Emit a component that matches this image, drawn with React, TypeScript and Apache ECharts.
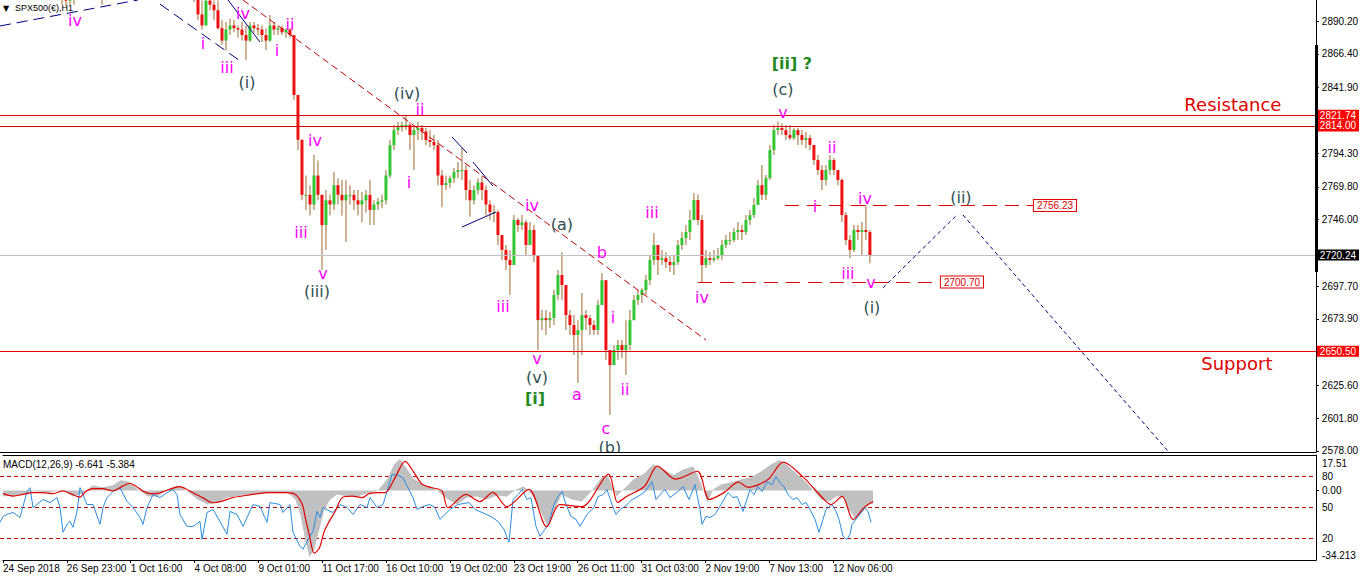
import React, { useEffect, useRef } from 'react';
import * as echarts from 'echarts';

// ---------- price data (4 hourly bars aggregated per candle) ----------
const HOURS_PER_CANDLE = 4;
const firstOpen = 2916;
const closes = [
  2918, 2920, 2922, 2925, 2921, 2924, 2927, 2923, 2920, 2918,
  2916, 2914, 2912, 2910, 2908, 2906, 2905, 2907, 2909, 2912,
  2915, 2918, 2916, 2912, 2910, 2909, 2913, 2917, 2920, 2924,
  2928, 2931, 2929, 2932, 2935, 2933, 2936, 2938, 2936, 2933,
  2930, 2927, 2924, 2921, 2918, 2915, 2913, 2910, 2908, 2895,
  2887, 2905, 2902, 2898, 2885, 2876, 2884, 2887, 2885, 2884,
  2880, 2876, 2887, 2885, 2884, 2880, 2876, 2887, 2884, 2885,
  2882, 2884, 2880, 2836.5, 2804, 2764, 2764, 2757, 2778, 2764,
  2742, 2760, 2757, 2771, 2764, 2760, 2764, 2764, 2760, 2757,
  2760, 2764, 2753, 2757, 2759, 2760, 2778, 2800, 2811, 2813,
  2814.7, 2814.7, 2807.4, 2811, 2812.5, 2810, 2803.8, 2802.4, 2800, 2778,
  2771, 2772.6, 2776, 2780.6, 2782, 2782, 2767.5, 2760, 2767.5, 2773,
  2767.5, 2757, 2751.5, 2751.5, 2734.8, 2724, 2716.7, 2713, 2745.7, 2742,
  2744, 2727.6, 2738.5, 2720.3, 2673, 2674.5, 2673, 2674.5, 2691.3, 2705.8,
  2698.5, 2676.7, 2669.5, 2662.2, 2665.8, 2676.7, 2674.5, 2669.5, 2665.8, 2684,
  2702, 2651.3, 2640.4, 2651.3, 2655, 2651.3, 2655, 2673, 2687.6, 2691.3,
  2694.9, 2702, 2716.7, 2727.6, 2716.7, 2718, 2715.2, 2713, 2715.2, 2727.6,
  2732.6, 2737, 2745.7, 2760.2, 2745.7, 2713, 2718, 2716.7, 2718, 2720.3,
  2727.6, 2731.2, 2731.2, 2737, 2738.5, 2737, 2745.7, 2749.3, 2756.6, 2771,
  2764, 2776.2, 2796.5, 2811, 2812.5, 2811, 2807.4, 2805.2, 2811, 2807.4,
  2803.8, 2805.2, 2800.2, 2789.3, 2782, 2774.8, 2782, 2789.3, 2782, 2774.8,
  2749.3, 2731.2, 2724, 2738.5, 2737, 2738.5, 2737, 2720.24,
];
const highs = [
  2924, 2925, 2927, 2929, 2927, 2928, 2931, 2929, 2926, 2923,
  2921, 2919, 2917, 2915, 2913, 2911, 2910, 2911, 2912, 2916,
  2919, 2922, 2921, 2918, 2914, 2913, 2917, 2921, 2925, 2929,
  2932, 2935, 2934, 2937, 2939, 2938, 2940, 2942, 2941, 2938,
  2935, 2932, 2929, 2926, 2923, 2920, 2918, 2915, 2912, 2910,
  2905, 2909, 2909, 2905, 2905, 2891, 2889.5, 2892, 2891, 2887,
  2889.5, 2887, 2889.5, 2889.5, 2888, 2887, 2885, 2894.6, 2889.5, 2887,
  2887, 2885, 2885, 2880, 2836.5, 2804, 2778, 2771, 2793, 2789,
  2764, 2767.5, 2764, 2780.6, 2776, 2774.8, 2774.8, 2771, 2767.5, 2767.5,
  2766, 2767.5, 2774.8, 2760, 2761.7, 2764, 2782, 2804, 2814.7, 2817,
  2817, 2822, 2817, 2814.7, 2817, 2814.7, 2812.5, 2811, 2807.4, 2803.8,
  2782, 2778, 2778, 2783.5, 2787.8, 2798, 2785.6, 2774.8, 2771, 2776,
  2777.6, 2771, 2760, 2756.6, 2753, 2734.8, 2727.6, 2724, 2749.3, 2747.2,
  2749.3, 2745.7, 2744.3, 2742, 2720.3, 2680.4, 2680.4, 2679, 2694.9, 2709.4,
  2722.5, 2684, 2680.4, 2676.7, 2673, 2692.7, 2680.4, 2676.7, 2673, 2687.6,
  2707.2, 2700.7, 2651.3, 2655, 2658.6, 2658.6, 2673, 2680.4, 2691.3, 2694.9,
  2696.3, 2705.8, 2720.3, 2736.3, 2727.6, 2724, 2722.5, 2720.3, 2720.3, 2731.2,
  2737, 2742, 2753, 2765.3, 2764, 2749.3, 2724, 2722.5, 2724, 2725.4,
  2731.2, 2734.8, 2737, 2740, 2744.3, 2742, 2749.3, 2753, 2761.7, 2774.8,
  2785.6, 2778.4, 2800.2, 2814.7, 2817, 2816, 2814.7, 2814.7, 2812.5, 2812.5,
  2811, 2809.6, 2807.4, 2800.2, 2792.9, 2785.6, 2785.6, 2792.9, 2790.7, 2782,
  2776, 2751.5, 2734.8, 2742, 2742, 2744.3, 2756.6, 2738.5,
];
const lows = [
  2912, 2914, 2916, 2918, 2915, 2918, 2920, 2917, 2914, 2911,
  2910, 2908, 2907, 2906, 2906, 2902, 2901, 2902, 2902, 2907,
  2910, 2912, 2910, 2908, 2906, 2902, 2907, 2911, 2914, 2918,
  2922, 2925, 2923, 2926, 2929, 2927, 2930, 2932, 2930, 2927,
  2924, 2921, 2918, 2915, 2912, 2909, 2907, 2906, 2904, 2891,
  2884, 2887, 2898, 2891, 2884, 2873, 2869, 2880, 2882, 2878,
  2876, 2862, 2875, 2882, 2880, 2875, 2869, 2875, 2880, 2880,
  2880, 2878, 2878, 2833, 2796.5, 2760, 2753, 2749, 2753, 2760,
  2709.4, 2724, 2749, 2753, 2757, 2749, 2729.7, 2757, 2753, 2749,
  2744, 2751, 2742, 2742, 2753, 2754.4, 2757, 2776, 2796.5, 2807.4,
  2810, 2811, 2796.5, 2782, 2803.8, 2803.8, 2800, 2798.5, 2796.5, 2771,
  2755, 2767.5, 2769, 2772.6, 2776, 2774.8, 2760, 2748, 2757, 2764,
  2760, 2749, 2745.7, 2744, 2727.6, 2716.7, 2709.4, 2691.3, 2713, 2737,
  2738.5, 2720.3, 2727.6, 2715.2, 2651.3, 2665.8, 2662.2, 2667.3, 2669.5, 2687.6,
  2687.6, 2665.8, 2662.2, 2647.7, 2627.4, 2647.7, 2665.8, 2662.2, 2662.2, 2662.2,
  2684, 2644, 2604.1, 2642.6, 2644, 2645.5, 2633.2, 2651.3, 2673, 2684,
  2685.4, 2691.3, 2698.5, 2713, 2705.8, 2713, 2710.9, 2708, 2705.8, 2713,
  2724, 2727.6, 2731.2, 2749.3, 2742, 2700, 2710.9, 2713, 2715.2, 2716.7,
  2716.7, 2725.4, 2727.6, 2729.7, 2731.2, 2731.2, 2734.8, 2742, 2747.2, 2756.6,
  2760.2, 2760.2, 2774.8, 2792.9, 2807.4, 2807.4, 2803.8, 2803.8, 2803.8, 2800.2,
  2800.2, 2798, 2796.5, 2785.6, 2778.4, 2767.5, 2771, 2778.4, 2778.4, 2771,
  2744.3, 2727.6, 2718, 2722.5, 2731.2, 2720.3, 2731.2, 2714.4,
];

// ---------- axes ----------
const timeTickHours = [0, 64, 128, 192, 256, 320, 384, 448, 512, 576, 640, 704, 768, 832];
const timeTickLabels = ['24 Sep 2018', '26 Sep 23:00', '1 Oct 16:00', '4 Oct 08:00', '9 Oct 01:00', '11 Oct 17:00',
  '16 Oct 10:00', '19 Oct 02:00', '23 Oct 19:00', '26 Oct 11:00', '31 Oct 03:00', '2 Nov 19:00', '7 Nov 13:00', '12 Nov 06:00'];
const priceTicks = [2890.2, 2866.4, 2841.9, 2794.3, 2769.8, 2746.0, 2697.7, 2673.9, 2625.6, 2601.8, 2578.0];
const macdAxisValues = [17.51, 0, -34.213];
const macdAxisTexts = ['17.51', '0.00', '-34.213'];
const oscLevels = [80, 50, 20];

// ---------- levels & drawings ----------
const resistanceLevels = [2821.74, 2814.0];
const supportLevel = 2650.5;
const lastPrice = 2720.24;
const dashedLevelValues = [2756.23, 2700.7];
const dashedLevelFrom = [785, 698];
const dashedLevelTo = [1033, 940];
const redTrend = [[243, 2905.45], [706, 2658.6]];
const navyDashed = [
  [[0, 2886.6], [138, 2905.45]],
  [[160, 2902.5], [243, 2859.7]],
];
const navySolid = [
  [[228, 2905.45], [260, 2874.95]],
  [[452, 2806.0], [467, 2794.4]],
  [[473, 2787.8], [493, 2770.4]],
  [[462, 2740.6], [496, 2751.5]],
];
const projection = [
  [[883, 2696.4], [957, 2749.4]],
  [[963, 2749.4], [1168, 2578.0]],
];

// ---------- wave labels ----------
const waveTexts = ['iv', 'i', 'iii', 'iv', '(i)', 'i', 'ii', 'iv', 'iii', 'v',
  '(iii)', '(iv)', 'ii', 'i', 'iii', 'iv', '(a)', 'b', 'v', '(v)',
  '[i]', 'a', 'i', 'ii', 'c', '(b)', 'iii', 'iv', '[ii] ?', '(c)',
  'v', 'ii', 'i', 'iv', 'iii', 'v', '(i)', '(ii)', 'Resistance', 'Support'];
const waveHours = [75, 203, 227, 243, 247, 277, 290, 315, 301, 323,
  317, 407, 420, 409, 503, 532, 562, 602, 537, 537,
  535, 577, 613, 625, 606, 610, 652, 702, 792, 783,
  783, 832, 815, 865, 848, 871, 872, 961, 1233, 1237];
const wavePrices = [2890.9, 2874.2, 2856.8, 2896.0, 2845.9, 2869.1, 2887.3, 2803.8, 2737.0, 2707.0,
  2693.5, 2837.9, 2825.6, 2772.6, 2682.6, 2756.6, 2742.1, 2721.8, 2645.5, 2631.4,
  2616.0, 2618.7, 2674.6, 2622.3, 2594.0, 2580.9, 2751.5, 2689.8, 2859.7, 2840.8,
  2824.1, 2798.7, 2755.2, 2761.0, 2707.2, 2700.7, 2682.5, 2761.7, 2829.9, 2641.2];
const waveKinds = ['m', 'm', 'm', 'm', 'g', 'm', 'm', 'm', 'm', 'm',
  'g', 'g', 'm', 'm', 'm', 'm', 'g', 'm', 'm', 'g',
  'G', 'm', 'm', 'm', 'm', 'g', 'm', 'm', 'G', 'g',
  'm', 'm', 'm', 'm', 'm', 'm', 'g', 'g', 'r', 'r'];

// ---------- MACD panel ----------
const macdHist = [[0, -2.9], [15, -2.4], [30, -0.4], [45, -0.9], [60, 0.1], [70, -2.9], [80, -1.4], [90, 2.6], [100, 1.6], [110, 2.6],
  [118, 5.1], [125, 4.6], [135, 0.6], [145, -2.9], [155, -2.9], [165, 0.6], [175, 2.6], [185, -0.4], [195, -4.4], [205, -6.9],
  [215, -5.9], [225, -3.4], [240, -2.4], [255, -1.4], [270, -0.9], [285, -0.9], [293, -4.4], [298, -11.8], [303, -24.3], [307, -32.7],
  [312, -29.2], [317, -19.3], [322, -9.4], [328, -4.4], [335, -1.9], [345, -2.9], [355, -2.9], [365, -1.4], [375, -0.4], [385, 5.6],
  [392, 13.0], [398, 15.5], [405, 10.5], [412, 5.6], [420, 3.1], [430, 1.6], [440, -1.9], [446, -4.4], [455, -6.9], [465, -3.4],
  [475, -2.9], [485, -4.4], [495, -2.4], [505, -2.9], [515, 0.6], [522, 2.1], [530, -1.9], [538, -9.4], [545, -16.8], [552, -10.3],
  [560, -1.9], [570, -4.4], [580, -5.4], [590, -0.4], [600, 6.6], [606, 7.6], [615, -2.9], [622, 0.6], [632, 5.6], [642, 8.1],
  [652, 13.0], [662, 10.5], [672, 7.6], [682, 10.5], [692, 12.0], [700, 3.1], [706, -5.9], [712, 0.6], [720, 3.1], [730, 4.1],
  [740, 5.6], [750, 6.6], [760, 9.5], [770, 13.0], [778, 15.0], [786, 12.5], [795, 8.6], [805, 4.1], [813, -0.4], [820, -4.4],
  [828, -5.4], [835, -2.9], [842, -2.9], [848, -9.4], [855, -14.3], [862, -10.3], [868, -6.6], [872, -6.6]];
const macdSignal = [[0, -1.5], [10, -2.7], [20, -1.9], [30, -1.0], [40, -1.0], [50, -1.5], [60, -0.2], [67, -1.4], [77, -3.2], [83, -0.5],
  [90, 0.9], [100, 0.9], [110, -0.2], [120, 2.2], [127, 3.6], [133, 2.2], [140, -0.2], [147, -1.5], [153, -1.5], [167, 0.6],
  [177, 1.9], [183, 0.9], [190, -1.0], [200, -3.5], [210, -6.0], [220, -5.2], [230, -3.5], [240, -2.7], [250, -1.9], [267, -1.0],
  [283, -1.0], [293, -1.9], [300, -6.9], [303, -13.5], [307, -21.8], [312, -30.9], [317, -28.4], [322, -20.1], [327, -15.2], [333, -10.2],
  [340, -3.5], [350, -2.7], [360, -3.5], [367, -1.5], [377, -1.0], [383, -1.0], [393, 6.4], [403, 14.4], [413, 8.1], [420, 3.1],
  [430, 1.4], [440, -0.2], [446, -8.4], [464, -1.9], [478, -5.4], [491, -0.9], [505, -7.9], [527, 0.6], [545, -17.8], [558, -6.9],
  [580, -7.9], [607, 8.1], [616, -5.9], [625, -2.9], [643, 2.1], [656, 12.0], [674, 5.6], [696, 9.5], [708, -4.4], [723, -0.9],
  [737, 4.1], [747, 1.6], [767, 5.6], [782, 14.0], [802, 6.6], [823, -4.4], [830, -6.9], [841, -2.9], [852, -14.3], [863, -8.4],
  [872, -5.4]];
const oscPoints = [[0, 35.6], [3, 41.3], [7, 43.3], [13, 45.2], [20, 40.4], [27, 65.4], [30, 69.2], [33, 50.0], [37, 52.9], [43, 57.7],
  [50, 54.8], [57, 59.6], [60, 50.0], [63, 26.0], [67, 33.7], [70, 36.5], [73, 30.8], [77, 46.2], [80, 69.2], [83, 62.5],
  [87, 52.9], [93, 52.9], [100, 33.7], [103, 50.0], [107, 59.6], [113, 65.4], [120, 69.2], [127, 55.8], [133, 50.0], [140, 40.4],
  [143, 33.7], [147, 50.0], [153, 62.5], [160, 59.6], [167, 64.4], [173, 67.3], [177, 62.5], [180, 43.3], [187, 31.7], [193, 31.7],
  [200, 36.5], [202, 19.2], [207, 45.2], [213, 48.1], [220, 36.5], [227, 24.0], [230, 46.2], [237, 43.3], [243, 31.7], [253, 52.9],
  [260, 51.0], [267, 35.6], [270, 54.8], [280, 52.9], [283, 45.2], [290, 52.9], [293, 26.0], [300, 12.5], [303, 9.6], [307, 17.3],
  [313, 26.9], [317, 46.2], [320, 40.4], [323, 50.0], [330, 46.2], [333, 45.2], [340, 52.9], [347, 50.0], [353, 43.3], [360, 52.9],
  [367, 50.0], [370, 59.6], [377, 50.0], [383, 52.9], [387, 65.4], [392, 81.7], [397, 81.7], [403, 78.8], [408, 69.2], [413, 59.6],
  [417, 48.1], [423, 51.0], [430, 52.9], [435, 50.0], [440, 38.5], [450, 48.1], [458, 52.9], [469, 54.8], [475, 48.1], [482, 45.2],
  [491, 41.3], [498, 36.5], [504, 28.8], [509, 16.3], [513, 57.7], [518, 62.5], [522, 67.3], [527, 57.7], [531, 59.6], [536, 31.7],
  [540, 22.1], [545, 28.8], [549, 35.6], [554, 52.9], [558, 60.6], [562, 65.4], [566, 52.9], [571, 41.3], [576, 38.5], [580, 31.7],
  [587, 43.3], [594, 50.0], [598, 60.6], [603, 62.5], [607, 67.3], [612, 52.9], [616, 43.3], [620, 48.1], [625, 51.0], [632, 57.7],
  [638, 60.6], [645, 65.4], [652, 75.0], [656, 57.7], [660, 62.5], [665, 67.3], [670, 59.6], [674, 62.5], [680, 67.3], [683, 70.2],
  [689, 57.7], [695, 72.1], [700, 48.1], [702, 33.7], [706, 41.3], [710, 40.4], [715, 43.3], [721, 52.9], [728, 64.4], [733, 59.6],
  [737, 60.6], [743, 46.2], [750, 67.3], [754, 62.5], [758, 70.2], [762, 65.4], [767, 75.0], [772, 72.1], [776, 79.8], [780, 74.0],
  [784, 70.2], [788, 62.5], [793, 57.7], [797, 59.6], [802, 52.9], [806, 54.8], [810, 48.1], [815, 38.5], [819, 26.0], [823, 38.5],
  [826, 48.1], [832, 52.9], [836, 46.2], [839, 38.5], [843, 22.1], [847, 19.2], [850, 24.0], [852, 33.7], [858, 41.3], [862, 46.2],
  [865, 50.0], [868, 46.2], [871, 35.6]];

const SPAN = 1316;
const UP = '#33c633';
const DOWN = '#ee1111';
const WICK = '#9c6b30';
const RED = '#e00000';
const NAVY = '#000080';
const LEVEL_RED = '#c00000';
const FONT = 'Liberation Sans';
const WAVE_FONT = 'DejaVu Sans';

function buildOption(): any {
  const candleData = closes.map((c, i) => {
    const o = i === 0 ? firstOpen : closes[i - 1];
    return [i * HOURS_PER_CANDLE + HOURS_PER_CANDLE / 2, o, c, Math.min(lows[i], o, c), Math.max(highs[i], o, c)];
  });
  const labelData = waveTexts.map((_, i) => [waveHours[i], wavePrices[i], i]);

  const boxLabel = (text: string, bg: string, fg: string, border?: string) => ({
    show: true, position: 'end', distance: 1, formatter: text,
    backgroundColor: bg, color: fg, borderColor: border || bg, borderWidth: border ? 1 : 0,
    padding: [1, 3, 0, 3], lineHeight: 10, fontSize: 10, fontFamily: FONT,
  });
  const segment = (pts: number[][], color: string, type: any) => [
    { coord: pts[0], lineStyle: { color, type, width: 1 }, label: { show: false } },
    { coord: pts[1] },
  ];

  const markData: any[] = [
    ...resistanceLevels.map((v) => ({ yAxis: v, lineStyle: { color: RED, type: 'solid', width: 1 }, label: boxLabel(v.toFixed(2), '#ff0000', '#fff') })),
    { yAxis: supportLevel, lineStyle: { color: RED, type: 'solid', width: 1 }, label: boxLabel(supportLevel.toFixed(2), '#ff0000', '#fff') },
    { yAxis: lastPrice, lineStyle: { color: '#c0c0c0', type: 'solid', width: 1 }, label: boxLabel(lastPrice.toFixed(2), '#000', '#fff') },
    ...dashedLevelValues.map((v, i) => [
      { coord: [dashedLevelFrom[i], v], lineStyle: { color: RED, type: [14, 8], width: 1 }, label: boxLabel(v.toFixed(2), '#fff', RED, RED) },
      { coord: [dashedLevelTo[i], v] },
    ]),
    segment(redTrend, '#c00000', [7, 4]),
    ...navyDashed.map((s) => segment(s, NAVY, [11, 6])),
    ...navySolid.map((s) => segment(s, NAVY, 'solid')),
    ...projection.map((s) => segment(s, NAVY, [4, 3])),
  ];

  const kindStyle: any = {
    m: { fill: '#ff00ff', fontSize: 16, fontWeight: 'normal' },
    g: { fill: '#2f4f4f', fontSize: 16, fontWeight: 'normal' },
    G: { fill: '#1f8a1f', fontSize: 16, fontWeight: 'bold' },
    r: { fill: RED, fontSize: 18, fontWeight: 'normal' },
  };

  const axisBase = {
    splitLine: { show: false },
    axisLine: { show: true, onZero: false, lineStyle: { color: '#000', width: 1 } },
  };

  const levelSeries = oscLevels.map((v) => ({
    type: 'line', name: 'level' + v, xAxisIndex: 3, yAxisIndex: 2, silent: true, showSymbol: false, z: 1,
    data: [[0, v], [SPAN, v]],
    lineStyle: { color: LEVEL_RED, type: [4, 3], width: 1 }, itemStyle: { color: LEVEL_RED },
  }));

  return {
    animation: false,
    backgroundColor: '#ffffff',
    grid: [
      { left: 0, right: 45, top: 0, height: 452 },
      { left: 0, right: 45, top: 455, height: 105 },
      { left: 0, right: 45, top: 455, height: 105 },
    ],
    xAxis: [
      { ...axisBase, type: 'value', gridIndex: 0, min: 0, max: SPAN, axisTick: { show: false }, axisLabel: { show: false } },
      {
        ...axisBase, type: 'value', gridIndex: 1, min: 0, max: SPAN, position: 'bottom',
        axisTick: { show: true, customValues: timeTickHours, length: 3, lineStyle: { color: '#000' } },
        axisLabel: {
          customValues: timeTickHours, align: 'left', margin: 3, fontSize: 10, fontFamily: FONT, color: '#000',
          formatter: (v: number) => { const i = timeTickHours.indexOf(v); return i >= 0 ? timeTickLabels[i] : ''; },
        },
      },
      { ...axisBase, type: 'value', gridIndex: 1, min: 0, max: SPAN, position: 'top', axisTick: { show: false }, axisLabel: { show: false } },
      { type: 'value', gridIndex: 2, min: 0, max: SPAN, show: false },
    ],
    yAxis: [
      {
        ...axisBase, type: 'value', gridIndex: 0, position: 'right', min: 2577.27, max: 2905.45,
        axisTick: { show: true, customValues: priceTicks, length: 3, lineStyle: { color: '#000' } },
        axisLabel: { customValues: priceTicks, formatter: (v: number) => v.toFixed(2), fontSize: 10, fontFamily: FONT, color: '#000', margin: 6 },
      },
      {
        ...axisBase, type: 'value', gridIndex: 1, position: 'right', min: -34.213, max: 17.51,
        axisTick: { show: true, customValues: [0], length: 3, lineStyle: { color: '#000' } },
        axisLabel: {
          customValues: macdAxisValues, fontSize: 10, fontFamily: FONT, color: '#000', margin: 6,
          formatter: (v: number) => {
            const i = macdAxisValues.findIndex((m) => Math.abs(m - v) < 1e-6);
            if (i < 0) return '';
            if (i === 0) return '{t|' + macdAxisTexts[i] + '}';
            if (i === macdAxisValues.length - 1) return '{b|' + macdAxisTexts[i] + '}';
            return macdAxisTexts[i];
          },
          rich: {
            t: { padding: [16, 0, 0, 0], fontSize: 10, fontFamily: FONT, color: '#000' },
            b: { padding: [0, 0, 10, 0], fontSize: 10, fontFamily: FONT, color: '#000' },
          },
        },
      },
      {
        type: 'value', gridIndex: 2, position: 'right', min: -0.8, max: 100.8,
        splitLine: { show: false }, axisLine: { show: false },
        axisTick: { show: true, customValues: oscLevels, length: 3, lineStyle: { color: '#000' } },
        axisLabel: { customValues: oscLevels, formatter: (v: number) => String(v), fontSize: 10, fontFamily: FONT, color: '#000', margin: 6 },
      },
    ],
    series: [
      {
        type: 'custom', name: 'price', xAxisIndex: 0, yAxisIndex: 0, clip: true, silent: true, z: 3,
        encode: { x: 0, y: [1, 2, 3, 4] },
        data: candleData,
        renderItem: (_p: any, api: any) => {
          const x = api.value(0), o = api.value(1), c = api.value(2), l = api.value(3), h = api.value(4);
          const pH = api.coord([x, h]);
          const pL = api.coord([x, l]);
          const pO = api.coord([x, o]);
          const pC = api.coord([x, c]);
          const w = api.size([HOURS_PER_CANDLE, 0])[0];
          const top = Math.min(pO[1], pC[1]);
          const bh = Math.max(1, Math.abs(pO[1] - pC[1]));
          return {
            type: 'group',
            children: [
              { type: 'rect', shape: { x: pH[0] - 0.5, y: pH[1], width: 1, height: Math.max(1, pL[1] - pH[1]) }, style: { fill: WICK } },
              { type: 'rect', shape: { x: pH[0] - w * 0.375, y: top, width: w * 0.75, height: bh }, style: { fill: c >= o ? UP : DOWN } },
            ],
          };
        },
      },
      {
        type: 'line', name: 'levels', xAxisIndex: 0, yAxisIndex: 0, silent: true, z: 2,
        data: candleData.map((d) => [d[0], d[2]]), showSymbol: false, lineStyle: { width: 0, opacity: 0 },
        markLine: { silent: true, animation: false, symbol: ['none', 'none'], label: { show: false }, data: markData },
      },
      {
        type: 'custom', name: 'waves', xAxisIndex: 0, yAxisIndex: 0, clip: true, silent: true, z: 5,
        encode: { x: 0, y: 1 },
        data: labelData,
        renderItem: (_p: any, api: any) => {
          const i = api.value(2);
          const p = api.coord([api.value(0), api.value(1)]);
          const k = kindStyle[waveKinds[i]];
          return {
            type: 'text', x: p[0], y: p[1],
            style: { text: waveTexts[i], fill: k.fill, fontSize: k.fontSize, fontWeight: k.fontWeight, fontFamily: WAVE_FONT, align: 'center', verticalAlign: 'middle' },
          };
        },
      },
      {
        type: 'line', name: 'MACD', xAxisIndex: 1, yAxisIndex: 1, data: macdHist, showSymbol: false, silent: true,
        lineStyle: { width: 0 }, itemStyle: { color: '#c0c0c0' }, areaStyle: { color: '#c0c0c0', opacity: 1 }, z: 2,
      },
      ...levelSeries,
      {
        type: 'line', name: 'Osc', xAxisIndex: 3, yAxisIndex: 2, data: oscPoints, showSymbol: false, silent: true,
        lineStyle: { width: 1, color: '#2b8ce0' }, itemStyle: { color: '#2b8ce0' }, z: 4,
      },
      {
        type: 'line', name: 'Signal', xAxisIndex: 1, yAxisIndex: 1, data: macdSignal, showSymbol: false, silent: true, smooth: 0.3,
        lineStyle: { width: 1.2, color: RED }, itemStyle: { color: RED }, z: 5,
      },
    ],
    graphic: [
      { type: 'rect', shape: { x: 1315, y: 45, width: 3, height: 227 }, style: { fill: '#000' }, z: 10 },
      { type: 'text', x: 3, y: 8, style: { text: '▼', fill: '#000', fontSize: 8, fontFamily: WAVE_FONT, verticalAlign: 'middle' }, z: 10 },
      { type: 'text', x: 15, y: 8, style: { text: 'SPX500(€),H1', fill: '#000', fontSize: 9, fontFamily: FONT, verticalAlign: 'middle' }, z: 10 },
      { type: 'text', x: 3, y: 464, style: { text: 'MACD(12,26,9) -6.641 -5.384', fill: '#000', fontSize: 10, fontFamily: FONT, verticalAlign: 'middle' }, z: 10 },
    ],
  };
}

export default function App() {
  const ref = useRef<HTMLDivElement>(null);
  useEffect(() => {
    document.body.style.margin = '0';
    document.body.style.overflow = 'hidden';
    const chart = echarts.init(ref.current as HTMLDivElement, undefined, { renderer: 'svg' });
    chart.setOption(buildOption());
    return () => chart.dispose();
  }, []);
  return <div ref={ref} style={{ width: 1361, height: 581 }} />;
}
